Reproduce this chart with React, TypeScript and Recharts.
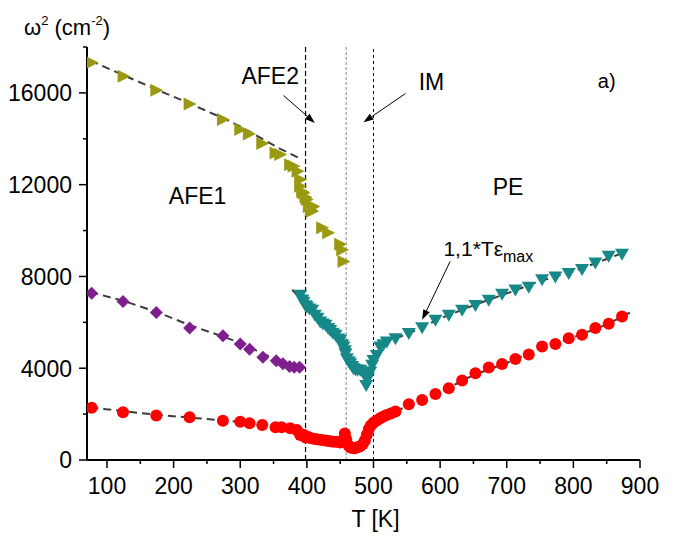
import React from 'react';
import { ScatterChart, Scatter, XAxis, YAxis, ReferenceLine, ReferenceDot } from 'recharts';

// [T (K), omega^2 (cm^-2)]
const oliveData = [
  [77, 17320], [125, 16730], [174, 16120], [224, 15520], [274, 14840], [300, 14400], [313, 14210],
  [333, 13790], [353, 13380], [360, 13310], [375, 12870], [380, 12800], [386, 12580], [390, 12220],
  [390, 11930], [393, 11700], [395, 11640], [398, 11450], [400, 11350], [403, 11050], [406, 10900],
  [408, 10840], [410, 11050], [423, 10120], [432, 9900], [450, 9400], [453, 9160], [455, 8650],
];
const purpleData = [
  [77, 7270], [124, 6910], [174, 6430], [224, 5750], [274, 5410], [300, 5060], [314, 4830],
  [334, 4480], [354, 4330], [364, 4190], [374, 4070], [381, 4040], [389, 4040],
];
const tealData = [
  [390, 7200], [393, 7000], [395, 6900], [398, 6750], [400, 6690], [404, 6600], [408, 6545],
  [412, 6330], [416, 6200], [420, 6040], [424, 5950], [428, 5890], [432, 5750], [435, 5670],
  [439, 5550], [443, 5455], [447, 5300], [450, 5240], [453, 5050], [455, 4950], [457, 4780],
  [458, 4655], [460, 4440], [463, 4300], [465, 4220], [468, 4100], [470, 4000], [473, 3950],
  [476, 3930], [480, 3930], [484, 3850], [487, 3710], [489, 3270], [492, 3600], [495, 3855],
  [498, 4150], [500, 4360], [505, 4580], [510, 4950], [515, 5050], [520, 5160], [533, 5310],
  [553, 5530], [573, 5790], [593, 6110], [613, 6330], [633, 6545], [653, 6760], [673, 6980],
  [693, 7250], [713, 7430], [733, 7550], [753, 7880], [773, 8000], [793, 8150], [813, 8320],
  [833, 8610], [853, 8900], [873, 8990],
];
const redData = [
  [77, 2280], [124, 2080], [174, 1935], [224, 1860], [274, 1715], [300, 1670], [314, 1600],
  [333, 1530], [353, 1425], [362, 1425], [375, 1380], [385, 1310], [390, 1090], [395, 1100],
  [398, 980], [402, 1000], [405, 960], [410, 930], [415, 900], [420, 880], [425, 860], [430, 840],
  [435, 820], [440, 800], [445, 790], [450, 760], [455, 900], [457, 1150], [459, 900], [462, 650],
  [465, 560], [468, 520], [472, 510], [476, 560], [480, 600], [484, 700], [487, 850], [490, 1100],
  [493, 1350], [496, 1500], [500, 1620], [505, 1720], [510, 1820], [515, 1900], [520, 1960],
  [526, 2030], [533, 2110], [553, 2430], [573, 2620], [593, 2880], [613, 3130], [633, 3460],
  [653, 3780], [673, 4030], [693, 4180], [713, 4400], [733, 4600], [753, 4945], [773, 5060],
  [793, 5310], [813, 5455], [833, 5750], [853, 5935], [873, 6250],
];

// dashed guide curves
const oliveFit = [[75, 17400], [125, 16770], [174, 16150], [224, 15540], [274, 14900], [300, 14540], [333, 14000], [360, 13560], [388, 13170]];
const purpleFit = [[75, 7320], [124, 6940], [174, 6460], [224, 5880], [274, 5380], [300, 5100], [333, 4650], [360, 4300], [390, 4070]];
const redFitLow = [[75, 2290], [174, 1970], [274, 1730], [333, 1570], [375, 1430], [392, 1300]];
const redFitHigh = [[515, 1880], [560, 2470], [600, 2960], [650, 3700], [700, 4230], [750, 4850], [800, 5350], [850, 5900], [890, 6500]];
const tealFitLow = [[378, 7420], [400, 6720], [420, 6060], [440, 5520], [455, 5000]];
const tealFitHigh = [[515, 5080], [560, 5610], [600, 6170], [650, 6740], [700, 7260], [750, 7800], [800, 8220], [850, 8760], [880, 9090]];

const xTicks = [100, 150, 200, 250, 300, 350, 400, 450, 500, 550, 600, 650, 700, 750, 800, 850, 900];
const yTicks = [0, 2000, 4000, 6000, 8000, 10000, 12000, 14000, 16000, 18000];
const phaseLines = [398, 459, 500];

// text annotations, in data coordinates
const notes = [
  { x: 236, y: 11520, text: 'AFE1' },
  { x: 345, y: 16760, text: 'AFE2' },
  { x: 587, y: 16470, text: 'IM' },
  { x: 702, y: 11930, text: 'PE' },
];
const arrows = [
  [[365, 15885], [412, 14693]],
  [[548, 15972], [485, 14720]],
  [[615, 8654], [573, 6109]],
];

const FONT = '"Liberation Sans", Arial, sans-serif';
const toPts = (a: number[][]) => a.map(([x, y]) => ({ x, y }));

const BottomTick = (p: any) => {
  const v = p.payload.value;
  const major = v % 100 === 0;
  return (
    <g>
      <line x1={p.x} x2={p.x} y1={p.y} y2={p.y + (major ? 8 : 4)} stroke="#000" strokeWidth={1.5} />
      {major && <text x={p.x} y={p.y + 34} textAnchor="middle" fontSize={23} fontFamily={FONT} fill="#000">{v}</text>}
    </g>
  );
};
const TopTick = (p: any) => {
  const major = p.payload.value % 100 === 0;
  return <line x1={p.x} x2={p.x} y1={p.y} y2={p.y + (major ? 8 : 4)} stroke="#000" strokeWidth={1.5} />;
};
const LeftTick = (p: any) => {
  const v = p.payload.value;
  const major = v % 4000 === 0;
  return (
    <g>
      <line x1={p.x} x2={p.x - (major ? 8 : 4)} y1={p.y} y2={p.y} stroke="#000" strokeWidth={1.5} />
      {major && <text x={p.x - 15} y={p.y} dy="0.36em" textAnchor="end" fontSize={23} fontFamily={FONT} fill="#000">{v}</text>}
    </g>
  );
};
const RightTick = (p: any) => {
  const major = p.payload.value % 4000 === 0;
  return <line x1={p.x} x2={p.x - (major ? 8 : 4)} y1={p.y} y2={p.y} stroke="#000" strokeWidth={1.5} />;
};

const triRight = (c: string) => (p: any) => (
  <polygon points={`${p.cx - 6},${p.cy - 6.5} ${p.cx + 7},${p.cy} ${p.cx - 6},${p.cy + 6.5}`} fill={c} />
);
const triDown = (c: string) => (p: any) => (
  <polygon points={`${p.cx - 7},${p.cy - 5} ${p.cx + 7},${p.cy - 5} ${p.cx},${p.cy + 7}`} fill={c} />
);
const diamond = (c: string) => (p: any) => (
  <polygon points={`${p.cx},${p.cy - 6.5} ${p.cx + 6.5},${p.cy} ${p.cx},${p.cy + 6.5} ${p.cx - 6.5},${p.cy}`} fill={c} />
);
const circle = (c: string) => (p: any) => <circle cx={p.cx} cy={p.cy} r={6} fill={c} />;
const noDot = () => <g />;

const Arrow = (p: any) => {
  const { x1, y1, x2, y2 } = p;
  const a = Math.atan2(y2 - y1, x2 - x1);
  const L = 10, W = 3.5;
  const bx = x2 - L * Math.cos(a), by = y2 - L * Math.sin(a);
  const pts = `${x2},${y2} ${bx + W * Math.sin(a)},${by - W * Math.cos(a)} ${bx - W * Math.sin(a)},${by + W * Math.cos(a)}`;
  return (
    <g>
      <line x1={x1} y1={y1} x2={bx} y2={by} stroke="#000" strokeWidth={1} />
      <polygon points={pts} fill="#000" />
    </g>
  );
};

const fitStyle = { stroke: '#3c3c3c', strokeWidth: 2, strokeDasharray: '8 5' };

const YTitle = (p: any) => {
  const { x, y } = p.viewBox;
  return (
    <text x={x - 3} y={y - 12} fontFamily={FONT} fontSize={22} fill="#000">
      ω<tspan dy={-10} fontSize={13}>2</tspan>
      <tspan dy={10} fontSize={22}> (cm</tspan>
      <tspan dy={-10} fontSize={13}>-2</tspan>
      <tspan dy={10} fontSize={22}>)</tspan>
    </text>
  );
};
const XTitle = (p: any) => {
  const { x, y, width } = p.viewBox;
  return (
    <text x={x + width / 2 + 12} y={y + 67} textAnchor="middle" fontFamily={FONT} fontSize={23} fill="#000">T [K]</text>
  );
};

export default function App() {
  return (
    <div>
      <style>{'body{margin:0;background:#fff}'}</style>
      <ScatterChart width={683} height={540} margin={{ top: 47, right: 43, bottom: 40, left: 27 }}>
        <XAxis type="number" dataKey="x" domain={[70, 900]} ticks={xTicks} allowDataOverflow
          height={40} tickSize={0} tickMargin={0} tickLine={false} tick={<BottomTick />}
          axisLine={{ stroke: '#000', strokeWidth: 2 }} label={<XTitle />} />
        <XAxis xAxisId="top" orientation="top" type="number" dataKey="x" domain={[70, 900]} ticks={xTicks}
          allowDataOverflow height={0} tickSize={0} tickMargin={0} tickLine={false} tick={<TopTick />}
          axisLine={{ stroke: '#000', strokeWidth: 2 }} />
        <YAxis type="number" dataKey="y" domain={[0, 18000]} ticks={yTicks} allowDataOverflow
          width={60} tickSize={0} tickMargin={0} tickLine={false} tick={<LeftTick />}
          axisLine={{ stroke: '#000', strokeWidth: 2 }} label={<YTitle />} />
        <YAxis yAxisId="right" orientation="right" type="number" dataKey="y" domain={[0, 18000]} ticks={yTicks}
          allowDataOverflow width={0} tickSize={0} tickMargin={0} tickLine={false} tick={<RightTick />}
          axisLine={{ stroke: '#000', strokeWidth: 2 }} />

        <ReferenceLine x={phaseLines[0]} stroke="#000" strokeWidth={1.2} strokeDasharray="5 3" />
        <ReferenceLine x={phaseLines[1]} stroke="#9a9a9a" strokeWidth={1.2} strokeDasharray="3 2" />
        <ReferenceLine x={phaseLines[2]} stroke="#000" strokeWidth={1} strokeDasharray="3 3" />

        <Scatter data={toPts(oliveFit)} line={fitStyle} shape={noDot} isAnimationActive={false} />
        <Scatter data={toPts(purpleFit)} line={fitStyle} shape={noDot} isAnimationActive={false} />
        <Scatter data={toPts(redFitLow)} line={fitStyle} shape={noDot} isAnimationActive={false} />
        <Scatter data={toPts(redFitHigh)} line={fitStyle} shape={noDot} isAnimationActive={false} />
        <Scatter data={toPts(tealFitLow)} line={fitStyle} shape={noDot} isAnimationActive={false} />
        <Scatter data={toPts(tealFitHigh)} line={fitStyle} shape={noDot} isAnimationActive={false} />

        <Scatter data={toPts(redData)} shape={circle('#ff0000')} isAnimationActive={false} />
        <Scatter data={toPts(purpleData)} shape={diamond('#7f1f8f')} isAnimationActive={false} />
        <Scatter data={toPts(tealData)} shape={triDown('#178888')} isAnimationActive={false} />
        <Scatter data={toPts(oliveData)} shape={triRight('#9a9a12')} isAnimationActive={false} />

        {arrows.map(([a, b], i) => (
          <ReferenceLine key={'ar' + i} segment={[{ x: a[0], y: a[1] }, { x: b[0], y: b[1] }]} shape={Arrow} />
        ))}
        {notes.map((n) => (
          <ReferenceDot key={n.text} x={n.x} y={n.y} r={0}
            shape={(p: any) => (
              <text x={p.cx} y={p.cy} dy="0.36em" textAnchor="middle" fontFamily={FONT} fontSize={23} fill="#000">{n.text}</text>
            )} />
        ))}
        <ReferenceDot x={850} y={16540} r={0}
          shape={(p: any) => (
            <text x={p.cx} y={p.cy} dy="0.36em" textAnchor="middle" fontFamily={FONT} fontSize={20} fill="#000">a)</text>
          )} />
        <ReferenceDot x={605} y={8872} r={0}
          shape={(p: any) => (
            <text x={p.cx} y={p.cy} fontFamily={FONT} fontSize={21} fill="#000">
              1,1*Tε<tspan dy={6} fontSize={16}>max</tspan>
            </text>
          )} />
      </ScatterChart>
    </div>
  );
}
